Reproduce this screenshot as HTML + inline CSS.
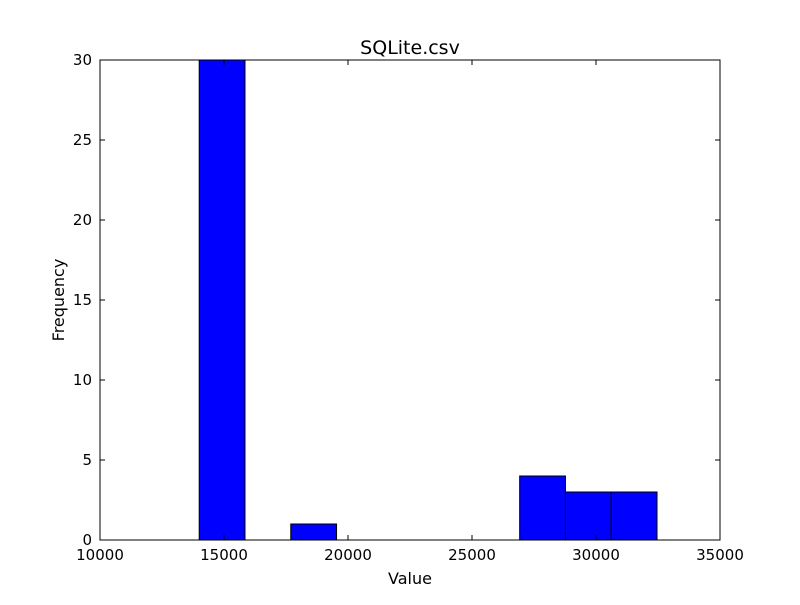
<!DOCTYPE html>
<html><head><meta charset="utf-8"><style>
body{margin:0;background:#fff;}
svg text{font-family:"DejaVu Sans","Liberation Sans",sans-serif;fill:#000;}
</style></head><body>
<svg width="800" height="600" xmlns="http://www.w3.org/2000/svg">
<rect width="800" height="600" fill="#fff"/>
<g id="bars"></g>
<g id="axes"></g>
<text x="410" y="54" font-size="19" text-anchor="middle">SQLite.csv</text>
<text x="410" y="584" font-size="16" text-anchor="middle">Value</text>
<text x="64" y="300" font-size="16" text-anchor="middle" transform="rotate(-90 64 300)">Frequency</text>
</svg>
<script>
const binStart = 14000;
const binWidth = 1846;
const counts = [30, 0, 1, 0, 0, 0, 0, 4, 3, 3];
const xTicks = [10000, 15000, 20000, 25000, 30000, 35000];
const yTicks = [0, 5, 10, 15, 20, 25, 30];
const L=100,R=720,T=60,B=540;
const xs=v=>L+(v-10000)/25000*(R-L);
const ys=v=>B-v/30*(B-T);
const NS="http://www.w3.org/2000/svg";
const bars=document.getElementById('bars'), axes=document.getElementById('axes');
function mk(tag,attrs,parent){const e=document.createElementNS(NS,tag);for(const k in attrs)e.setAttribute(k,attrs[k]);parent.appendChild(e);return e;}
counts.forEach((c,i)=>{
  if(c<=0)return;
  const x0=xs(binStart+i*binWidth),x1=xs(binStart+(i+1)*binWidth);
  const r=mk('rect',{x:x0,y:ys(c),width:x1-x0,height:ys(0)-ys(c),fill:'#0000ff',stroke:'#000','stroke-width':1},bars);
  
  
});
const frame=mk('rect',{x:L,y:T,width:R-L,height:B-T,fill:'none',stroke:'#000','stroke-width':1},axes);


xTicks.forEach(v=>{
  const x=xs(v);
  mk('line',{x1:x,y1:B,x2:x,y2:B-5,stroke:'#000'},axes);
  mk('line',{x1:x,y1:T,x2:x,y2:T+5,stroke:'#000'},axes);
  const t=mk('text',{x:x,y:B+20,'font-size':15,'text-anchor':'middle'},axes);
  t.textContent=v;
  
  
});
yTicks.forEach(v=>{
  const y=ys(v);
  mk('line',{x1:L,y1:y,x2:L+5,y2:y,stroke:'#000'},axes);
  mk('line',{x1:R,y1:y,x2:R-5,y2:y,stroke:'#000'},axes);
  const t=mk('text',{x:L-8,y:y+5,'font-size':15,'text-anchor':'end'},axes);
  t.textContent=v;
  
  
});
</script>
</body></html>
